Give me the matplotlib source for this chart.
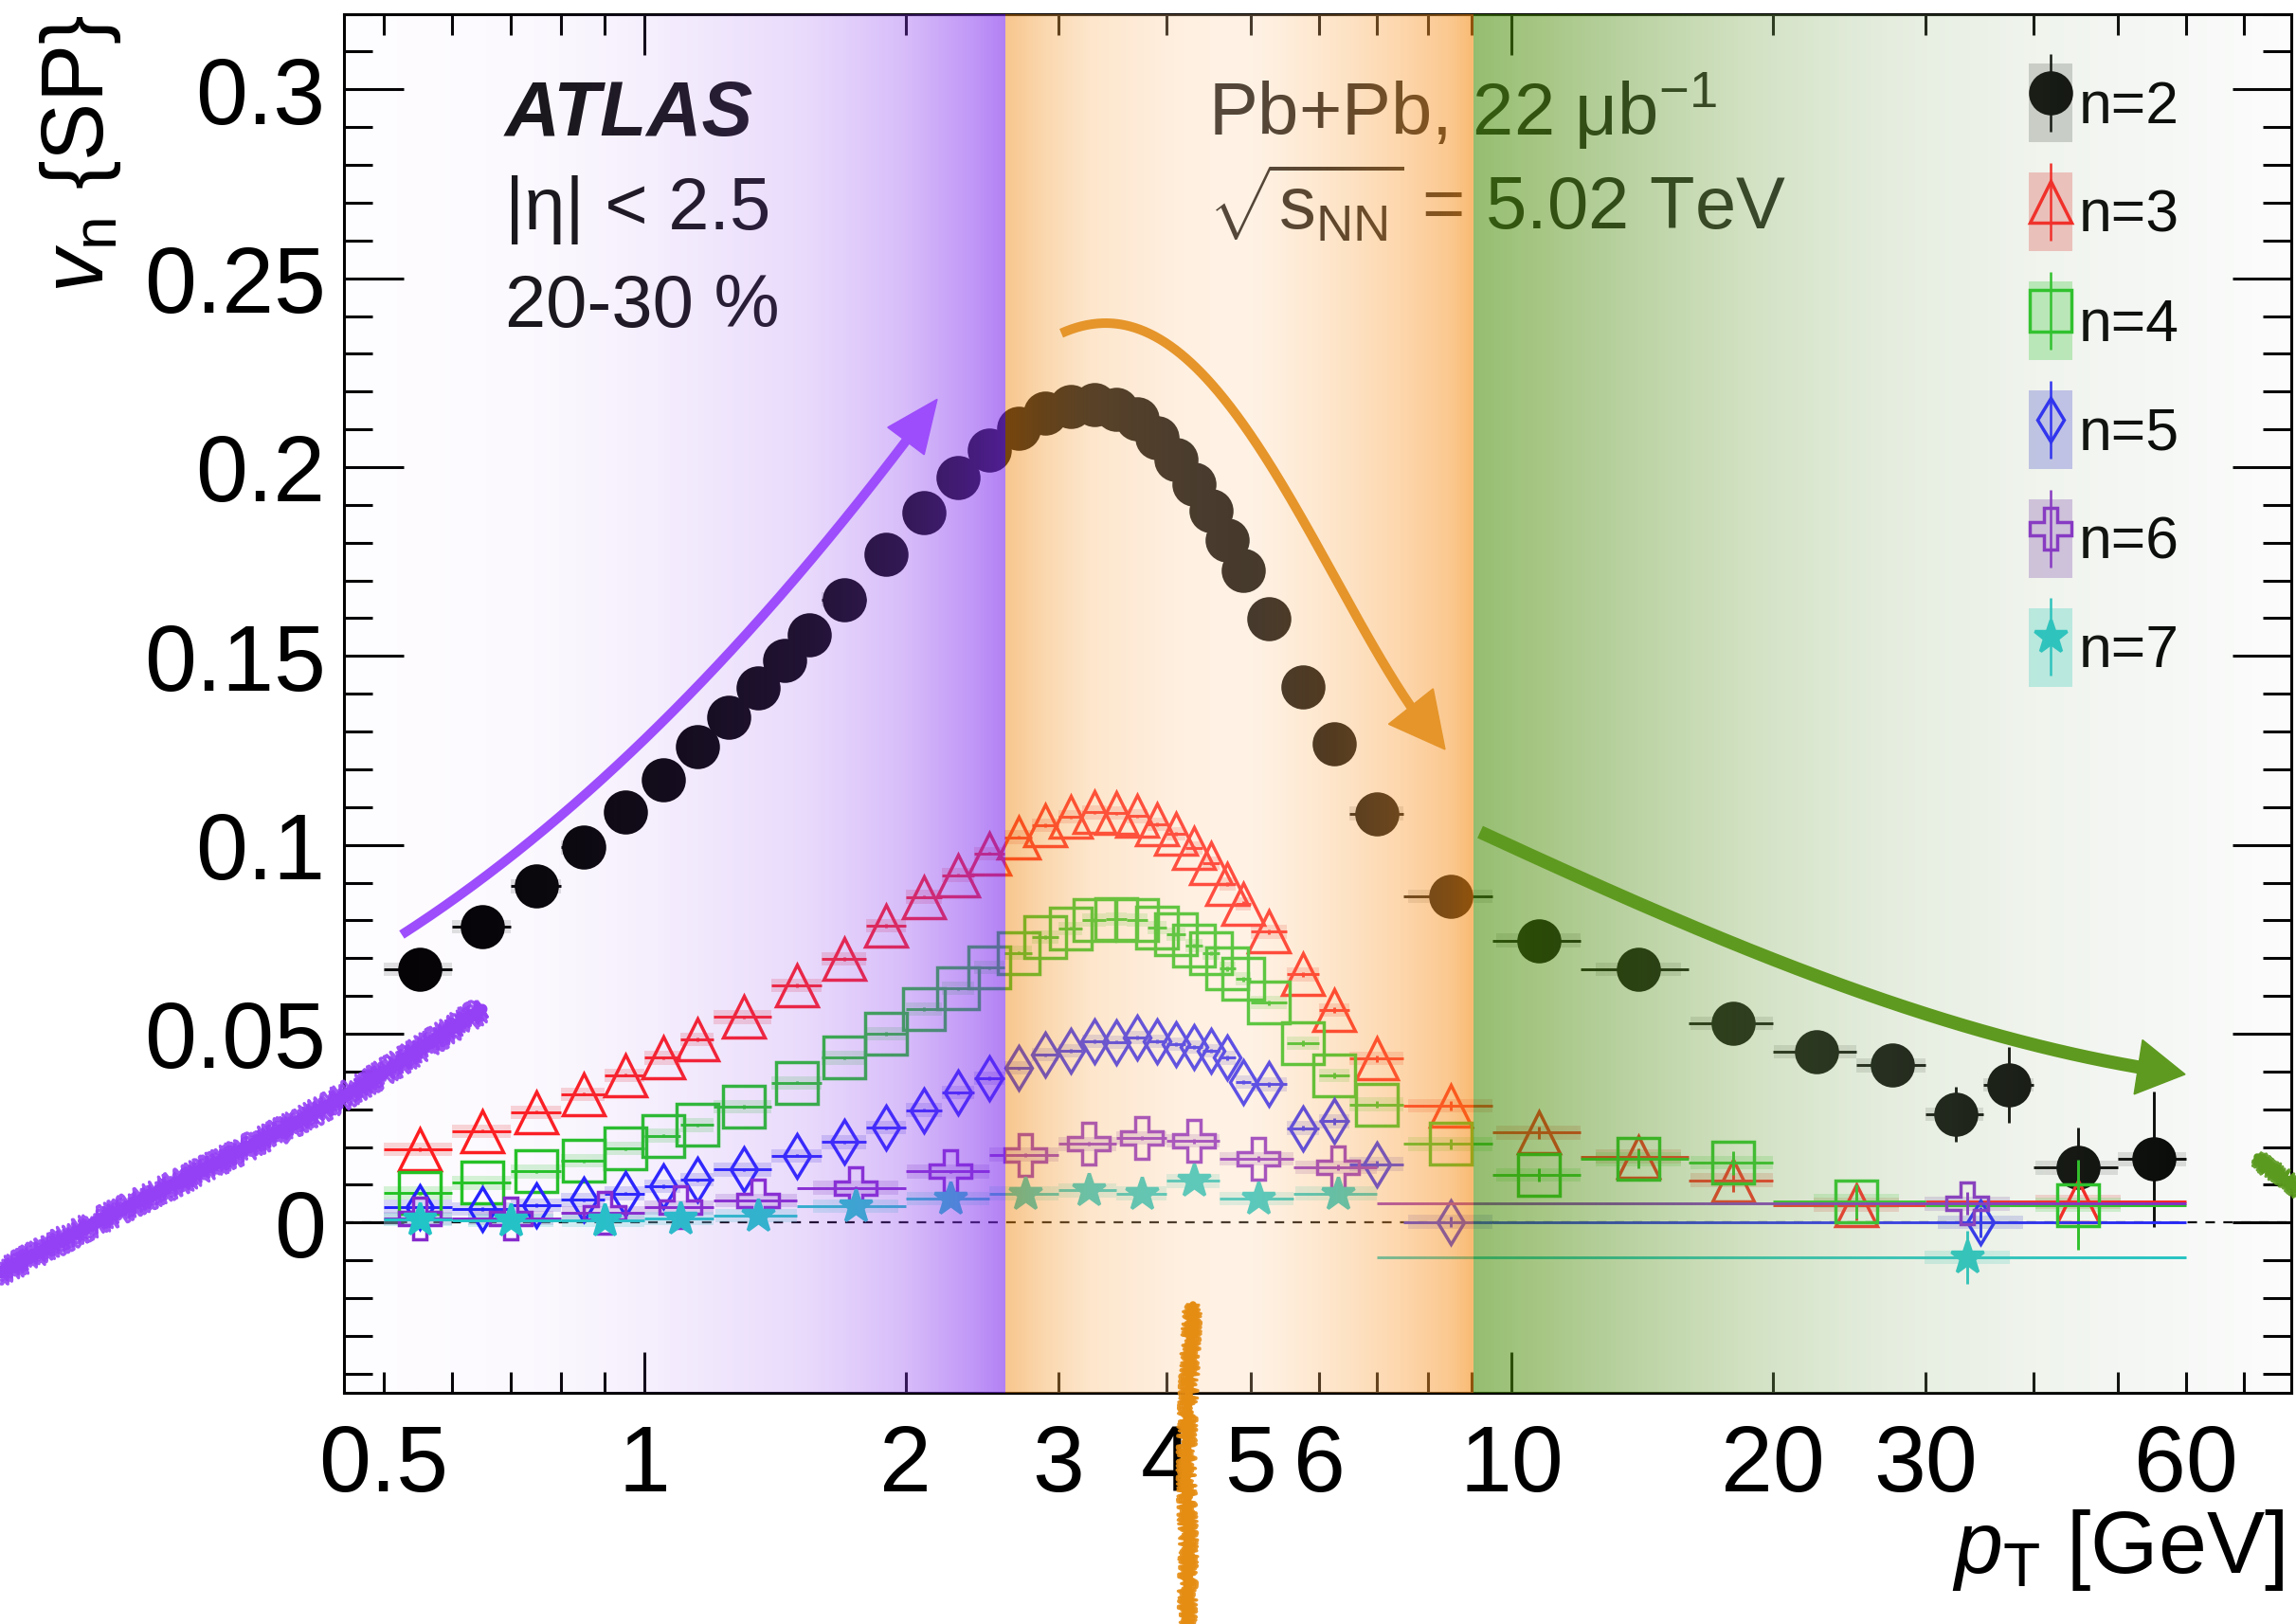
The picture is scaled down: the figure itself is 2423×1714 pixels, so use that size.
import numpy as np
import matplotlib
matplotlib.use("Agg")
import matplotlib.pyplot as plt
from matplotlib.lines import Line2D
from matplotlib.patches import Polygon, Rectangle

plt.rcParams['font.family'] = ['Liberation Sans', 'DejaVu Sans']
plt.rcParams['mathtext.fontset'] = 'custom'
plt.rcParams['mathtext.rm'] = 'Liberation Sans'
plt.rcParams['mathtext.it'] = 'Liberation Sans:italic'
plt.rcParams['mathtext.bf'] = 'Liberation Sans:bold'

W, H = 2423, 1715   # output size in px at dpi 100

# ---------------- data: v_n{SP} vs pT, Pb+Pb 20-30 % ----------------
# pT bin edges [GeV]
edges_v2 = [0.5, 0.6, 0.7, 0.8, 0.9, 1.0, 1.1, 1.2, 1.3, 1.4, 1.5, 1.6, 1.8, 2.0,
            2.2, 2.4, 2.6, 2.8, 3.0, 3.2, 3.4, 3.6, 3.8, 4.0, 4.2, 4.4, 4.6, 4.8,
            5.0, 5.5, 6.0, 6.5, 7.5, 9.5, 12, 16, 20, 25, 30, 35, 40, 50, 60]
edges_v34 = [0.5, 0.6, 0.7, 0.8, 0.9, 1.0, 1.1, 1.2, 1.4, 1.6, 1.8, 2.0, 2.2, 2.4,
             2.6, 2.8, 3.0, 3.2, 3.4, 3.6, 3.8, 4.0, 4.2, 4.4, 4.6, 4.8, 5.0, 5.5,
             6.0, 6.5, 7.5, 9.5, 12, 16, 20, 30, 60]
edges_v5 = [0.5, 0.6, 0.7, 0.8, 0.9, 1.0, 1.1, 1.2, 1.4, 1.6, 1.8, 2.0, 2.2, 2.4,
            2.6, 2.8, 3.0, 3.2, 3.4, 3.6, 3.8, 4.0, 4.2, 4.4, 4.6, 4.8, 5.0, 5.5,
            6.0, 6.5, 7.5, 9.5, 60]
edges_v67 = [0.5, 0.6, 0.8, 1.0, 1.2, 1.5, 2.0, 2.5, 3.0, 3.5, 4.0, 4.6, 5.6, 7.0, 60]

v2 = [0.0671, 0.0783, 0.0890, 0.0993, 0.1088, 0.1171, 0.1260, 0.1337, 0.1416, 0.1488,
      0.1556, 0.1650, 0.1769, 0.1880, 0.1973, 0.2046, 0.2102, 0.2144, 0.2161, 0.2165,
      0.2153, 0.2127, 0.2077, 0.2019, 0.1956, 0.1885, 0.1806, 0.1727, 0.1598, 0.1417,
      0.1267, 0.1083, 0.0863, 0.0747, 0.0670, 0.0527, 0.0453, 0.0416, 0.0287, 0.0365,
      0.0145, 0.0168]
v3 = [0.0194, 0.0242, 0.0292, 0.0340, 0.0390, 0.0436, 0.0485, 0.0544, 0.0628, 0.0698,
      0.0786, 0.0862, 0.0920, 0.0977, 0.1020, 0.1052, 0.1074, 0.1086, 0.1084, 0.1076,
      0.1055, 0.1030, 0.0992, 0.0952, 0.0896, 0.0844, 0.0770, 0.0657, 0.0562, 0.0434,
      0.0310, 0.0238, 0.0175, 0.0112, 0.0047, 0.0055]
v4 = [0.0078, 0.0105, 0.0135, 0.0163, 0.0196, 0.0230, 0.0258, 0.0307, 0.0370, 0.0436,
      0.0500, 0.0565, 0.0620, 0.0675, 0.0714, 0.0756, 0.0779, 0.0801, 0.0804, 0.0801,
      0.0781, 0.0764, 0.0734, 0.0714, 0.0672, 0.0645, 0.0582, 0.0475, 0.0390, 0.0313,
      0.0208, 0.0126, 0.0168, 0.0158, 0.0057, 0.0047]
v5 = [0.0042, 0.0036, 0.0046, 0.0060, 0.0077, 0.0096, 0.0113, 0.0140, 0.0177, 0.0213,
      0.0251, 0.0298, 0.0344, 0.0382, 0.0409, 0.0444, 0.0455, 0.0480, 0.0478, 0.0490,
      0.0480, 0.0472, 0.0465, 0.0455, 0.0436, 0.0372, 0.0366, 0.0250, 0.0268, 0.0155,
      0.0002, 0.0000]
v6 = [0.0010, 0.0012, 0.0025, 0.0040, 0.0058, 0.0092, 0.0135, 0.0180, 0.0208, 0.0224,
      0.0216, 0.0169, 0.0146, 0.0050]
v7 = [0.0008, 0.0006, 0.0006, 0.0010, 0.0019, 0.0044, 0.0064, 0.0077, 0.0085, 0.0077,
      0.0110, 0.0064, 0.0077, -0.0092]

# statistical uncertainties
ey2 = [0.0004, 0.0004, 0.0004, 0.0004, 0.0004, 0.0004, 0.0004, 0.0004, 0.0004, 0.0004,
       0.0004, 0.0004, 0.0004, 0.0004, 0.0004, 0.0004, 0.0004, 0.0004, 0.0004, 0.0004,
       0.0005, 0.0005, 0.0005, 0.0005, 0.0005, 0.0005, 0.0006, 0.0006, 0.0006, 0.0007,
       0.0008, 0.0009, 0.0011, 0.0014, 0.0018, 0.0022, 0.0028, 0.0032, 0.0072, 0.0100,
       0.0106, 0.0180]
ey3 = [0.0004, 0.0004, 0.0004, 0.0004, 0.0004, 0.0004, 0.0004, 0.0004, 0.0004, 0.0004,
       0.0004, 0.0004, 0.0004, 0.0004, 0.0004, 0.0004, 0.0004, 0.0004, 0.0004, 0.0004,
       0.0005, 0.0005, 0.0005, 0.0005, 0.0006, 0.0006, 0.0006, 0.0007, 0.0008, 0.0009,
       0.0012, 0.0016, 0.0022, 0.0030, 0.0040, 0.0100]
ey4 = [0.0004, 0.0004, 0.0004, 0.0004, 0.0004, 0.0004, 0.0004, 0.0004, 0.0004, 0.0004,
       0.0004, 0.0004, 0.0004, 0.0004, 0.0004, 0.0004, 0.0004, 0.0004, 0.0004, 0.0004,
       0.0005, 0.0005, 0.0005, 0.0005, 0.0006, 0.0006, 0.0006, 0.0007, 0.0008, 0.0009,
       0.0013, 0.0018, 0.0025, 0.0032, 0.0045, 0.0120]
ey5 = [0.0004, 0.0004, 0.0004, 0.0004, 0.0004, 0.0004, 0.0004, 0.0004, 0.0004, 0.0004,
       0.0004, 0.0004, 0.0004, 0.0004, 0.0004, 0.0004, 0.0004, 0.0004, 0.0004, 0.0004,
       0.0005, 0.0005, 0.0005, 0.0005, 0.0006, 0.0006, 0.0006, 0.0007, 0.0008, 0.0009,
       0.0015, 0.0040]
ey6 = [0.0004, 0.0004, 0.0004, 0.0004, 0.0004, 0.0004, 0.0004, 0.0005, 0.0005, 0.0005,
       0.0006, 0.0007, 0.0008, 0.0030]
ey7 = [0.0004, 0.0004, 0.0004, 0.0004, 0.0004, 0.0004, 0.0005, 0.0005, 0.0005, 0.0006,
       0.0006, 0.0007, 0.0008, 0.0070]

labels = ['n=2', 'n=3', 'n=4', 'n=5', 'n=6', 'n=7']

# ---------------- styles ----------------
styles = [
    dict(marker='o', ms=31, color='#000000', filled=True, box='#9a9a9a'),
    dict(marker='^', ms=31, color='#ff1a1a', filled=False, box='#f07a7a'),
    dict(marker='s', ms=31, color='#1fc41f', filled=False, box='#74de74'),
    dict(marker='d', ms=23, color='#1f1fff', filled=False, box='#8080e6'),
    dict(marker='P', ms=32, color='#8426cc', filled=False, box='#a77ccc'),
    dict(marker='*', ms=26, color='#1cc6c6', filled=True, box='#6fe0d8'),
]
series = [(edges_v2, v2, ey2), (edges_v34, v3, ey3), (edges_v34, v4, ey4),
          (edges_v5, v5, ey5), (edges_v67, v6, ey6), (edges_v67, v7, ey7)]
SYS_H = 0.0018
XLIM = (0.45, 79.3)
YLIM = (-0.045, 0.32)

fig = plt.figure(figsize=(W / 100, H / 100), dpi=100)
ax_rect = [363 / W, 1 - 1470.7 / H, 2055 / W, 1455.1 / H]
ax = fig.add_axes(ax_rect)
ax.set_xscale('log')
ax.set_xlim(*XLIM)
ax.set_ylim(*YLIM)

ax.axhline(0, color='black', lw=1.6, dashes=(4.5, 4), zorder=1)

handles = []
for k, ((edges, vals, errs), st) in enumerate(zip(series, styles)):
    e = np.asarray(edges, float)
    lo, hi = e[:-1], e[1:]
    pt = 0.5 * (lo + hi)
    v = np.asarray(vals)
    blo = np.maximum(lo, pt / 1.12)
    bhi = np.minimum(hi, pt * 1.12)
    ax.bar(blo, 2 * SYS_H, width=bhi - blo, bottom=v - SYS_H, align='edge',
           color=st['box'], alpha=0.3, lw=0, zorder=2 + 0.1 * k)
    mfc = st['color'] if st['filled'] else 'none'
    ax.errorbar(pt, v, xerr=[pt - lo, hi - pt], yerr=errs, fmt=st['marker'],
                ms=st['ms'], mfc=mfc, mec=st['color'], mew=2.5,
                ecolor=st['color'], elinewidth=2.1, capsize=0, zorder=3 + 0.1 * k)
    box = Rectangle((0, 0), 1, 1, facecolor=st['box'], edgecolor='none', alpha=0.45)
    vline = Line2D([], [], marker='|', ms=59, mew=1.8, color=st['color'], ls='none')
    mk = Line2D([], [], marker=st['marker'], ms=st['ms'], mfc=mfc, mec=st['color'],
                mew=2.5, ls='none')
    handles.append((box, vline, mk))

ax.legend(handles, labels, loc='upper left', bbox_to_anchor=(0.8652, 0.964),
          frameon=False, fontsize=45, handlelength=0.736, handleheight=1.667,
          handletextpad=0.11, labelspacing=0.51, borderpad=0, borderaxespad=0)

# ---------------- axes styling (ROOT-like) ----------------
ax.set_xticks([1, 10], ['1', '10'])
minor = [0.5, 0.6, 0.7, 0.8, 0.9, 2, 3, 4, 5, 6, 7, 8, 9, 20, 30, 40, 50, 60, 70]
minor_lab = {0.5: '0.5', 2: '2', 3: '3', 4: '4', 5: '5', 6: '6', 20: '20', 30: '30', 60: '60'}
ax.set_xticks(minor, [minor_lab.get(m, '') for m in minor], minor=True)
ax.set_yticks([0, 0.05, 0.1, 0.15, 0.2, 0.25, 0.3],
              ['0', '0.05', '0.1', '0.15', '0.2', '0.25', '0.3'])
ax.set_yticks([t / 100 for t in range(-4, 33) if t % 5 != 0], minor=True)
ax.tick_params(axis='both', which='both', direction='in', top=True, right=True,
               labelsize=71, width=2.2, color='black')
ax.tick_params(axis='x', which='major', length=31, pad=23)
ax.tick_params(axis='x', which='minor', length=16, pad=23)
ax.tick_params(axis='y', which='major', length=45, pad=14)
ax.tick_params(axis='y', which='minor', length=21.5, pad=14)
for s in ax.spines.values():
    s.set_linewidth(2.2)

def axfrac(px, py):
    return (px - 363) / 2055, (1470.7 - py) / 1455.1

ax.text(*axfrac(533, 143), 'ATLAS', fontsize=58, fontweight='bold', fontstyle='italic',
        color='#111111', va='baseline', transform=ax.transAxes)
ax.text(*axfrac(533, 242), '|η| < 2.5', fontsize=56, color='#111111', va='baseline',
        transform=ax.transAxes)
ax.text(*axfrac(533, 345), '20-30 %', fontsize=56, color='#111111', va='baseline',
        transform=ax.transAxes)
ax.text(*axfrac(1275, 143), r'Pb+Pb, 22 μb$^{-1}$', fontsize=56, color='#111111',
        va='baseline', transform=ax.transAxes)
ax.text(*axfrac(1275, 242), r'$\sqrt{\mathrm{s}_{\mathrm{NN}}}$ = 5.02 TeV', fontsize=56,
        color='#111111', va='baseline', transform=ax.transAxes)

fig.text(85 / W, 1 - 16 / H, r'$v_{\mathrm{n}}$ {SP}', fontsize=66, rotation=90,
         ha='center', va='top')
fig.text(2410 / W, 1 - 1660 / H, r'$p_{\mathrm{T}}$ [GeV]', fontsize=66,
         ha='right', va='baseline')

# ---------------- coloured highlight bands (drawn over the plot) ----------------
BAND_PT = [0.45, 2.61, 9.03, 79.3]
PURPLE = [(0.00, 200, 150, 230, 0.02), (0.20, 190, 140, 235, 0.04),
          (0.34, 180, 130, 240, 0.07), (0.48, 165, 105, 240, 0.12),
          (0.70, 155, 85, 240, 0.22), (0.84, 145, 70, 240, 0.35),
          (0.95, 135, 55, 240, 0.52), (1.00, 130, 50, 238, 0.62)]
ORANGE = [(0.00, 240, 140, 25, 0.50), (0.08, 245, 160, 60, 0.42),
          (0.18, 250, 185, 110, 0.36), (0.38, 255, 205, 155, 0.30),
          (0.52, 255, 210, 165, 0.28), (0.69, 252, 180, 100, 0.33),
          (0.83, 252, 165, 70, 0.43), (0.95, 248, 150, 40, 0.52),
          (1.00, 245, 140, 20, 0.60)]
GREEN = [(0.00, 78, 145, 17, 0.60), (0.075, 82, 145, 15, 0.52),
         (0.17, 93, 150, 35, 0.45), (0.34, 130, 174, 88, 0.36),
         (0.52, 155, 187, 131, 0.25), (0.69, 161, 186, 142, 0.16),
         (0.86, 142, 167, 142, 0.08), (1.00, 150, 170, 150, 0.03)]

ncol = 2055
f = (np.arange(ncol) + 0.5) / ncol
lx = np.log10(XLIM[0]) + f * (np.log10(XLIM[1]) - np.log10(XLIM[0]))
img = np.zeros((2, ncol, 4))
for (a, b), anchors in zip(zip(BAND_PT[:-1], BAND_PT[1:]), [PURPLE, ORANGE, GREEN]):
    la, lb = np.log10(a), np.log10(b)
    m = (lx >= la) & (lx < lb) if b < BAND_PT[-1] else (lx >= la)
    t = (lx[m] - la) / (lb - la)
    an = np.array(anchors, float)
    for c in range(4):
        val = np.interp(t, an[:, 0], an[:, c + 1])
        img[:, m, c] = val / 255 if c < 3 else val

ov = fig.add_axes(ax_rect)
ov.imshow(img, extent=(0, 1, 0, 1), aspect='auto', interpolation='nearest')
ov.set_xlim(0, 1)
ov.set_ylim(0, 1)
ov.axis('off')
ov.set_zorder(ax.get_zorder() + 1)

# ---------------- hand-drawn arrows and strokes (figure pixels) ----------------
def smooth_path(pts, n=24):
    p = np.asarray(pts, float)
    p = np.vstack([2 * p[0] - p[1], p, 2 * p[-1] - p[-2]])
    t = np.linspace(0, 1, n, endpoint=False)[:, None]
    seg = []
    for i in range(1, len(p) - 2):
        p0, p1, p2, p3 = p[i - 1], p[i], p[i + 1], p[i + 2]
        seg.append(0.5 * (2 * p1 + (p2 - p0) * t
                          + (2 * p0 - 5 * p1 + 4 * p2 - p3) * t ** 2
                          + (3 * p1 - p0 - 3 * p2 + p3) * t ** 3))
    seg.append(p[-2][None, :])
    return np.vstack(seg)

def fit_path(pts, deg, n=300):
    p = np.asarray(pts, float)
    x0, x1 = p[0, 0], p[-1, 0]
    c = np.polyfit((p[:, 0] - x0) / (x1 - x0), p[:, 1], deg)
    s = np.linspace(0, 1, n)
    return np.column_stack([x0 + s * (x1 - x0), np.polyval(c, s)])

def to_fig(xy):
    return np.column_stack([xy[:, 0] / W, 1 - xy[:, 1] / H])

def draw_arrow(curve, color, lw_px, head_len, head_w):
    tip = curve[-1]
    dist = np.hypot(curve[:, 0] - tip[0], curve[:, 1] - tip[1])
    k = np.nonzero(dist >= head_len)[0][-1]
    u = tip - curve[k]
    u = u / np.hypot(*u)
    base = tip - u * head_len
    shaft = np.vstack([curve[:k + 1], base + u * 4])
    perp = np.array([-u[1], u[0]])
    head = np.array([tip, base + perp * head_w / 2, base - perp * head_w / 2])
    xy = to_fig(shaft)
    fig.add_artist(Line2D(xy[:, 0], xy[:, 1], lw=lw_px * 0.72, color=color,
                          solid_capstyle='butt', solid_joinstyle='round',
                          transform=fig.transFigure, zorder=5))
    fig.add_artist(Polygon(to_fig(head), closed=True, facecolor=color, edgecolor=color,
                           lw=1, transform=fig.transFigure, zorder=5))

def rough_stroke(pts, color, width):
    curve = smooth_path(pts, n=40)
    d = np.gradient(curve, axis=0)
    d /= np.hypot(d[:, 0], d[:, 1])[:, None]
    nrm = np.column_stack([-d[:, 1], d[:, 0]])
    core = to_fig(curve)
    ln = Line2D(core[:, 0], core[:, 1], lw=width * 0.5 * 0.72, color=color,
                solid_capstyle='round', transform=fig.transFigure, zorder=6)
    ln.set_sketch_params(1.5, 8, 4)
    fig.add_artist(ln)
    for off in np.linspace(-width / 2 + 1.5, width / 2 - 1.5, 7):
        xy = to_fig(curve + nrm * off)
        ln = Line2D(xy[:, 0], xy[:, 1], lw=3.2 * 0.72, color=color, alpha=0.9,
                    solid_capstyle='round', transform=fig.transFigure, zorder=6)
        ln.set_sketch_params(2.5 + abs(off) / 4, 4, 14)
        fig.add_artist(ln)

draw_arrow(fit_path([(424, 991), (561, 880), (702, 760), (767, 696), (833, 621),
                     (900, 539), (960, 461), (989, 420)], 2),
           '#9d4dfb', 10, 55, 48)
draw_arrow(fit_path([(1120, 353), (1155, 342), (1250, 380), (1300, 430), (1333, 480),
                     (1367, 537), (1400, 593), (1433, 657), (1467, 713), (1493, 750),
                     (1525, 793)], 4),
           '#e5952a', 10, 58, 60)
draw_arrow(fit_path([(1562, 880), (1660, 922), (1790, 981), (1920, 1033), (2050, 1077),
                     (2180, 1111), (2256, 1126), (2306, 1136)], 3),
           '#5e9a1f', 14, 50, 58)

rough_stroke([(-20, 1355), (100, 1292), (210, 1238), (365, 1157), (509, 1066)], '#9440f5', 22)
rough_stroke([(1259, 1378), (1255, 1450), (1252, 1550), (1254, 1640), (1252, 1730)], '#e58c12', 15)
rough_stroke([(2382, 1222), (2395, 1235), (2405, 1240), (2430, 1260)], '#5a9a1e', 15)

fig.savefig('out.png', dpi=100)
